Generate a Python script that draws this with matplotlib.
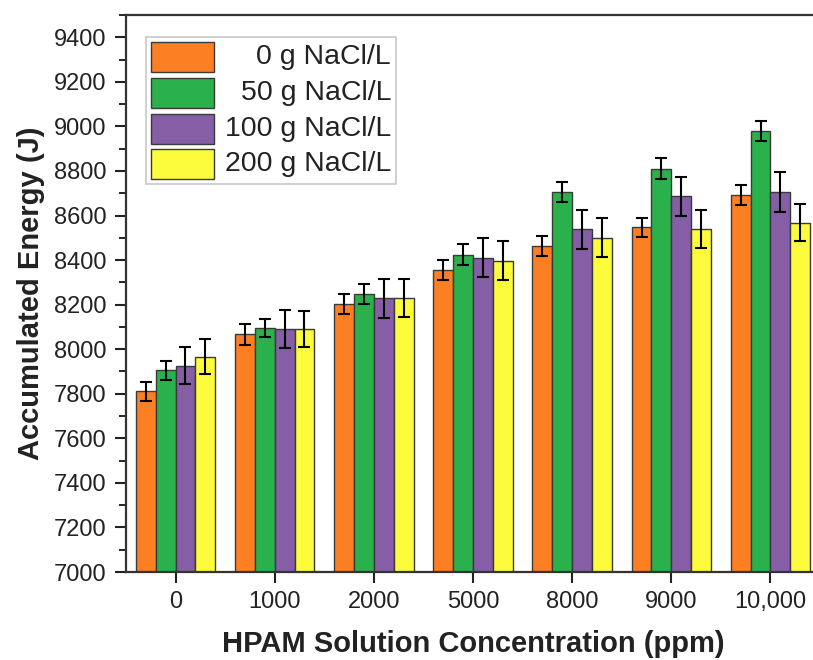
import matplotlib
matplotlib.use("Agg")
import matplotlib.pyplot as plt
import numpy as np
from matplotlib.patches import Rectangle
from matplotlib.ticker import MultipleLocator

plt.rcParams['font.family'] = ['Liberation Sans', 'DejaVu Sans']

categories = ["0", "1000", "2000", "5000", "8000", "9000", "10,000"]
series_labels = ["0 g NaCl/L", "50 g NaCl/L", "100 g NaCl/L", "200 g NaCl/L"]
vals_0 = [7812, 8066, 8205, 8355, 8464, 8548, 8694]
vals_50 = [7905, 8095, 8247, 8425, 8705, 8811, 8981]
vals_100 = [7926, 8090, 8229, 8410, 8539, 8687, 8705]
vals_200 = [7967, 8090, 8228, 8398, 8500, 8540, 8567]
err_0 = [43, 45, 45, 45, 45, 43, 45]
err_50 = [42, 42, 45, 45, 45, 46, 45]
err_100 = [82, 84, 88, 87, 88, 88, 90]
err_200 = [80, 82, 85, 87, 87, 84, 83]
colors = ['#fd7f23', '#2bb14b', '#855ea6', '#fcfc3c']

values = [vals_0, vals_50, vals_100, vals_200]
errors = [err_0, err_50, err_100, err_200]

fig = plt.figure(figsize=(8.13, 6.6), dpi=100)
ax = fig.add_axes([126/813, 88/660, 694/813, 557/660])

x = np.arange(len(categories))
w = 0.2
for i in range(4):
    ax.bar(x + (i - 1.5) * w, values[i], width=w, color=colors[i],
           edgecolor='#3a3a3a', linewidth=1.0,
           yerr=errors[i], capsize=4.5,
           error_kw=dict(ecolor='black', elinewidth=1.5, capthick=1.5), zorder=2)

ax.set_xlim(-0.5, 6.5)
ax.set_ylim(7000, 9500)
ax.set_xticks(x)
ax.set_xticklabels(categories)
ax.set_yticks(np.arange(7000, 9401, 200))
ax.yaxis.set_minor_locator(MultipleLocator(100))
ax.tick_params(axis='both', which='major', direction='out', length=8, width=1.5,
               labelsize=17, colors='#222222', pad=6)
ax.tick_params(axis='y', which='minor', direction='out', length=5, width=1.2)
ax.tick_params(axis='x', which='minor', bottom=False)
for s in ax.spines.values():
    s.set_linewidth(1.6)
    s.set_color('#333333')

ax.set_xlabel("HPAM Solution Concentration (ppm)", fontsize=21, fontweight='bold',
              color='#222222', labelpad=12)
ax.set_ylabel("Accumulated Energy (J)", fontsize=21, fontweight='bold',
              color='#222222', labelpad=6)

# legend drawn manually (text right-aligned like original)
def px2ax(px, py):
    return ((px - 126) / 694, (572 - py) / 557)

fx0, fy0 = px2ax(146, 184)
fx1, fy1 = px2ax(396, 37)
ax.add_patch(Rectangle((fx0, fy0), fx1 - fx0, fy1 - fy0, transform=ax.transAxes,
                       facecolor='white', edgecolor='#c8c8c8', linewidth=1.2, zorder=5))
tops = [42, 78, 114, 149]
for i in range(4):
    hx0, hy0 = px2ax(151, tops[i] + 30)
    hx1, hy1 = px2ax(214, tops[i])
    ax.add_patch(Rectangle((hx0, hy0), hx1 - hx0, hy1 - hy0, transform=ax.transAxes,
                           facecolor=colors[i], edgecolor='#3a3a3a', linewidth=1.0, zorder=6))
    tx, ty = px2ax(391, tops[i] + 15)
    ax.text(tx, ty, series_labels[i], transform=ax.transAxes, ha='right', va='center',
            fontsize=20.5, color='#222222', zorder=7)

fig.savefig("out.png", dpi=100)
